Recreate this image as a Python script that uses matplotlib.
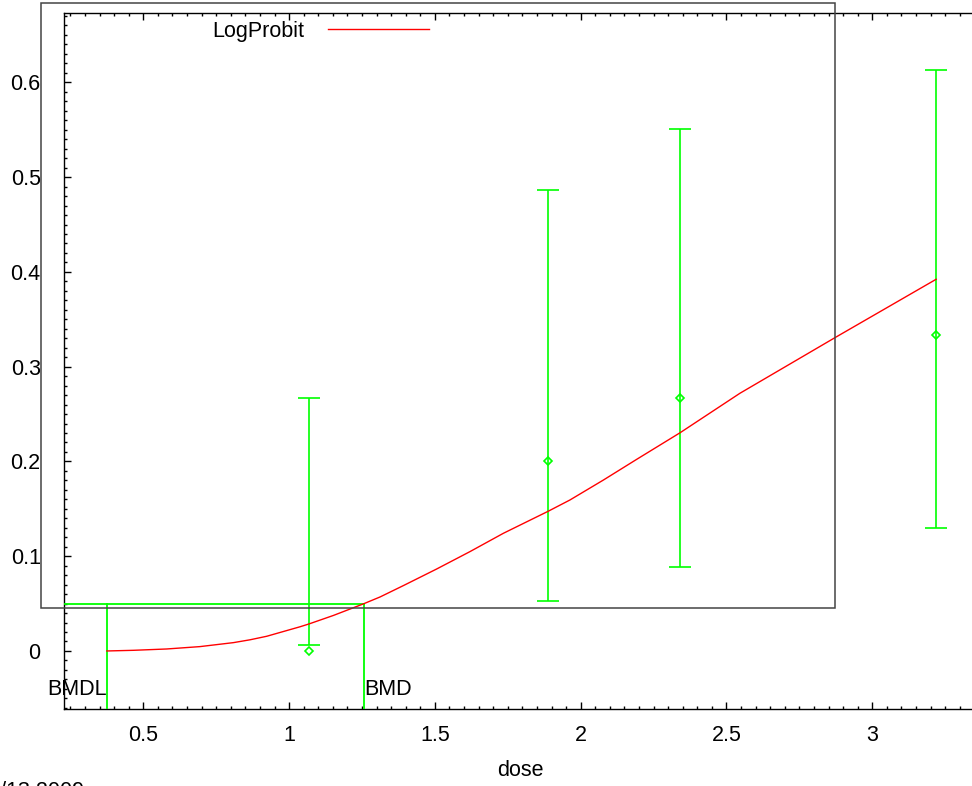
import numpy as np
import matplotlib.pyplot as plt
from matplotlib.patches import Rectangle
from matplotlib.ticker import MultipleLocator

plt.rcParams['font.family'] = ['Liberation Sans', 'DejaVu Sans']

# observed response (fraction affected) with confidence limits
dose = [1.068, 1.888, 2.340, 3.217]
resp = [0.0, 0.2, 0.2667, 0.3333]
lower = [0.0063, 0.0527, 0.0886, 0.1297]
upper = [0.2669, 0.4863, 0.5506, 0.6129]

# fitted LogProbit curve
fit_dose = [0.375, 0.466, 0.580, 0.694, 0.809, 0.866, 0.923, 1.037, 1.068, 1.152,
            1.254, 1.312, 1.392, 1.506, 1.620, 1.735, 1.889, 1.963, 2.078, 2.192,
            2.341, 2.546, 2.872, 3.219]
fit_resp = [0.0, 0.0007, 0.0021, 0.0046, 0.0088, 0.0118, 0.0155, 0.0255, 0.0285, 0.0375,
            0.0496, 0.0570, 0.0690, 0.0865, 0.1048, 0.1242, 0.1475, 0.1593, 0.1804, 0.2022,
            0.2303, 0.2719, 0.3306, 0.3922]

bmr = 0.05
bmdl = 0.375
bmd = 1.257

W, H = 972, 786
green = '#00ff00'
fs = 15.5

fig = plt.figure(figsize=(W / 100, H / 100), dpi=100)
left, right, top, bottom = 64.3, 975.5, 12.5, 708.5
ax = fig.add_axes([left / W, 1 - bottom / H, (right - left) / W, (bottom - top) / H])

xlo, xhi = 0.229, 3.354
ylo, yhi = -0.0607, 0.6737
ax.set_xlim(xlo, xhi)
ax.set_ylim(ylo, yhi)

# the interval need not contain the observed value, so draw bars around its midpoint
mid = (np.array(lower) + np.array(upper)) / 2
half = (np.array(upper) - np.array(lower)) / 2
ax.errorbar(dose, mid, yerr=half, fmt='none', ecolor=green,
            elinewidth=1.2, capsize=8, capthick=1.2, zorder=3)
ax.plot(dose, resp, 'D', color=green, mfc='none', mec=green, ms=4.5, mew=1.2, zorder=3)

line, = ax.plot(fit_dose, fit_resp, color='#ff0000', lw=1.0, zorder=4, label='LogProbit')

# BMD / BMDL markers
ax.plot([xlo, bmd], [bmr, bmr], color=green, lw=1.3, zorder=3)
ax.plot([bmdl, bmdl], [ylo, bmr], color=green, lw=1.3, zorder=3)
ax.plot([bmd, bmd], [ylo, bmr], color=green, lw=1.3, zorder=3)
ax.text(bmdl, -0.041, 'BMDL', ha='right', va='center', fontsize=fs)
ax.text(bmd, -0.041, 'BMD', ha='left', va='center', fontsize=fs)

ax.xaxis.set_major_locator(MultipleLocator(0.5))
ax.xaxis.set_minor_locator(MultipleLocator(0.05))
ax.yaxis.set_major_locator(MultipleLocator(0.1))
ax.yaxis.set_minor_locator(MultipleLocator(0.01))
ax.xaxis.set_major_formatter(lambda v, p: f'{v:g}')
ax.yaxis.set_major_formatter(lambda v, p: f'{v:g}')

ax.tick_params(which='both', direction='in', top=True, right=False, color='black')
ax.tick_params(which='major', length=5, width=1)
ax.tick_params(which='minor', length=2.5, width=1)
ax.tick_params(axis='x', which='major', labelsize=fs, pad=12)
ax.tick_params(axis='y', which='major', labelsize=fs, pad=17)
for s in ax.spines.values():
    s.set_linewidth(1)
ax.spines['right'].set_visible(False)

# faint ticks on the (cropped) right side
ax2 = ax.twinx()
ax2.set_ylim(ylo, yhi)
ax2.set_yticks([0.609, 0.527, 0.445, 0.364, 0.282, 0.200, 0.119, 0.037, -0.044])
ax2.tick_params(direction='in', length=2.5, width=1, labelright=False)
for s in ax2.spines.values():
    s.set_visible(False)

ax.set_xlabel('dose', fontsize=fs, labelpad=10)

ax.legend(handles=[line], loc='center left', bbox_to_anchor=(212 / W, 1 - 31 / H),
          bbox_transform=fig.transFigure, frameon=False, markerfirst=False,
          fontsize=fs, handlelength=4.7, handletextpad=1.1,
          borderpad=0, borderaxespad=0)

# outer box left over from the plotting program
fig.patches.append(Rectangle((41 / W, 1 - 607.5 / H), (835 - 41) / W, (607.5 - 2.5) / H,
                             transform=fig.transFigure, fill=False,
                             edgecolor='#444444', lw=1.1, zorder=5))

fig.text(84 / W, 1 - 781 / H, '04/13 2009', ha='right', va='top', fontsize=fs)

fig.savefig('out.png', dpi=100)
